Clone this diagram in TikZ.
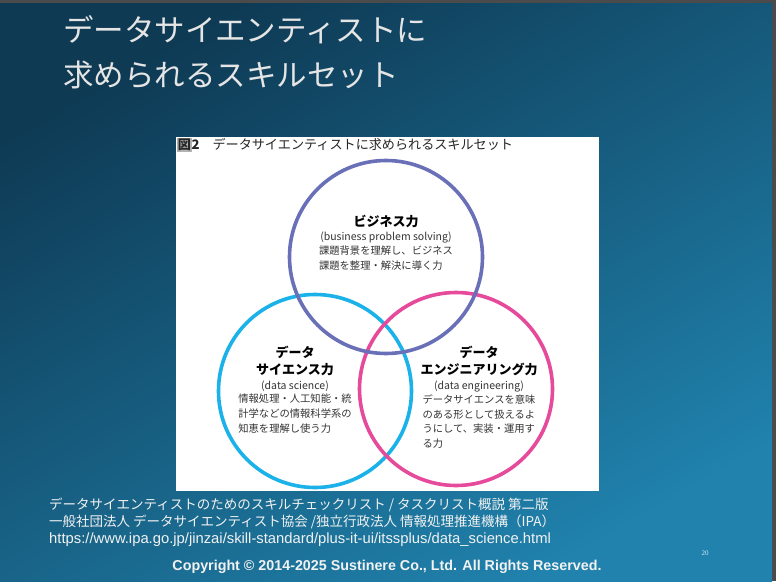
\documentclass[tikz,border=0pt]{standalone}
\usepackage{fontspec}
\setmainfont{Noto Sans CJK JP}
\newfontfamily\arialfont{Liberation Sans}
\newfontfamily\pagefont{Liberation Serif}
\usepackage{xcolor}
\usetikzlibrary{positioning}

\definecolor{framegray}{HTML}{4B4B4B}
\definecolor{slidetop}{HTML}{0E3A54}
\definecolor{slidebottom}{HTML}{2082AD}
\definecolor{bizblue}{HTML}{6A70B8}
\definecolor{sciblue}{HTML}{1AB2E8}
\definecolor{engpink}{HTML}{E64B9B}

\begin{document}
\begin{tikzpicture}[x=1pt,y=-1pt]
	\tikzstyle{ring} = [draw, circle, line width=3.6pt, minimum size=193pt, inner sep=0pt]
	\tikzstyle{headtext} = [inner sep=0pt, align=center, font=\fontsize{13}{17.5}\selectfont\bfseries]
	\tikzstyle{entext} = [inner sep=0pt, text=black!80, font=\fontsize{10.5}{14}\selectfont]
	\tikzstyle{bodytext} = [inner sep=0pt, align=left, text=black!80, font=\fontsize{10.3}{14.7}\selectfont]
	\tikzstyle{titletext} = [inner sep=0pt, anchor=west, text=white!90!black, font=\fontsize{30.5}{36}\selectfont]
	\tikzstyle{foottext} = [inner sep=0pt, anchor=west, text=white!95!black, font=\fontsize{13.5}{16}\selectfont]

	% slide background
	\fill[framegray] (0,0) rectangle (776,581);
	\shade[top color=slidetop, bottom color=slidebottom, shading angle=30] (0,3) rectangle (772,581);
	\useasboundingbox (0,0) rectangle (776,581);

	\node[titletext] (TitleA) at (63,30) {データサイエンティストに};
	\node[titletext] (TitleB) at (63,75) {求められるスキルセット};

	% figure panel
	\fill[white] (176,137) rectangle (599,491);
	\node[inner sep=0pt, anchor=west, text=black!85, font=\fontsize{13.1}{16}\selectfont] (Caption) at (177,145)
		{{\setlength\fboxsep{0.6pt}\colorbox{black!30}{\bfseries 図}}\textbf{2}\quad データサイエンティストに求められるスキルセット};

	\node[ring, draw=sciblue] (Science) at (315,391) {};
	\node[ring, draw=engpink] (Engineering) at (456,389) {};
	\node[ring, draw=bizblue] (Business) at (386,257) {};

	\node[headtext] (BizHead) at (386,221) {ビジネス力};
	\node[entext, below=4pt of BizHead] (BizEn) {(business problem solving)};
	\node[bodytext, below=2.5pt of BizEn] (BizBody) {課題背景を理解し、ビジネス\\課題を整理・解決に導く力};

	\node[headtext] (SciHead) at (295,361) {データ\\サイエンス力};
	\node[entext, below=4pt of SciHead] (SciEn) {(data science)};
	\node[bodytext, below=2.5pt of SciEn] (SciBody) {情報処理・人工知能・統\\計学などの情報科学系の\\知恵を理解し使う力};

	\node[headtext] (EngHead) at (479,361) {データ\\エンジニアリング力};
	\node[entext, below=4pt of EngHead] (EngEn) {(data engineering)};
	\node[bodytext, below=2.5pt of EngEn] (EngBody) {データサイエンスを意味\\のある形として扱えるよ\\うにして、実装・運用す\\る力};

	% source
	\node[foottext] (SourceA) at (49,505) {データサイエンティストのためのスキルチェックリスト / タスクリスト概説 第二版};
	\node[foottext] (SourceB) at (49,522) {一般社団法人 データサイエンティスト協会 /独立行政法人 情報処理推進機構（IPA）};
	\node[foottext, font=\arialfont\fontsize{14.8}{16}\selectfont] (SourceUrl) at (49,540) {https://www.ipa.go.jp/jinzai/skill-standard/plus-it-ui/itssplus/data\_science.html};
	\node[inner sep=0pt, text=white!95!black, font=\arialfont\bfseries\fontsize{14.3}{16}\selectfont] (Copyright) at (387,567) {Copyright © 2014-2025 Sustinere Co., Ltd. All Rights Reserved.};
	\node[inner sep=0pt, text=white!80!cyan, font=\pagefont\fontsize{7}{8}\selectfont] (PageNo) at (705,553) {20};
\end{tikzpicture}
\end{document}
